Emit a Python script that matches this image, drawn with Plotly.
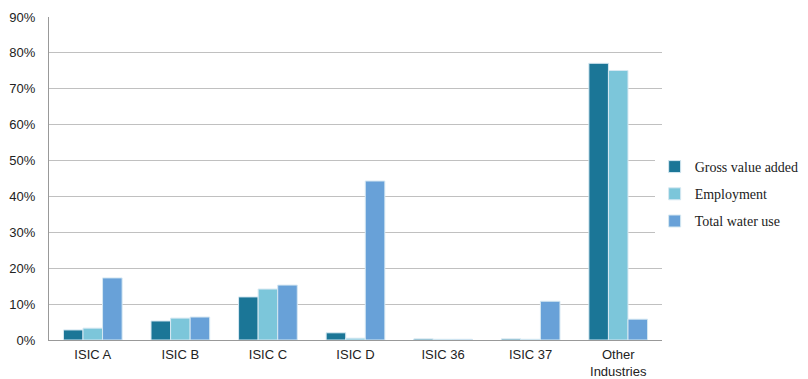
import plotly.graph_objects as go

categories = ["ISIC A", "ISIC B", "ISIC C", "ISIC D", "ISIC 36", "ISIC 37", "Other<br>Industries"]
gva = [2.8, 5.3, 12.0, 2.0, 0.3, 0.3, 77.1]
employment = [3.3, 6.1, 14.2, 0.5, 0.2, 0.2, 75.1]
water = [17.3, 6.4, 15.3, 44.3, 0.2, 10.8, 5.8]
series_names = ["Gross value added", "Employment", "Total water use"]
colors = ["#1b7697", "#7cc6da", "#68a1d8"]
tick_vals = list(range(0, 100, 10))
tick_text = [f"{v}%" for v in tick_vals]

fig = go.Figure()
for name, vals, c in zip(series_names, [gva, employment, water], colors):
    fig.add_trace(go.Bar(x=categories, y=vals, name=name, legendgroup=name,
                         marker=dict(color=c, line=dict(color="#d6e8f2", width=1))))

fig.update_layout(
    width=808, height=379,
    margin=dict(l=49, r=146, t=17, b=39, autoexpand=False),
    paper_bgcolor="white", plot_bgcolor="white",
    barmode="group", bargap=0.33, bargroupgap=0.0,
    font=dict(family="Liberation Sans, Arial", size=13, color="#222"),
    legend=dict(x=0.988, y=0.452, yanchor="middle", xanchor="left",
                font=dict(family="Liberation Serif, serif", size=14, color="#222"),
                itemwidth=30, tracegroupgap=6),
    xaxis=dict(showline=True, linecolor="#999", linewidth=1, ticks="", tickfont=dict(size=13),
               automargin=False, ticklabelstandoff=2),
    yaxis=dict(range=[0, 90], tickvals=tick_vals, ticktext=tick_text, showgrid=True,
               gridcolor="#c0c0c0", gridwidth=1, showline=True, linecolor="#999",
               ticks="", zeroline=False, tickfont=dict(size=13), automargin=False,
               ticklabelstandoff=10),
)
fig.write_html("out.html")
